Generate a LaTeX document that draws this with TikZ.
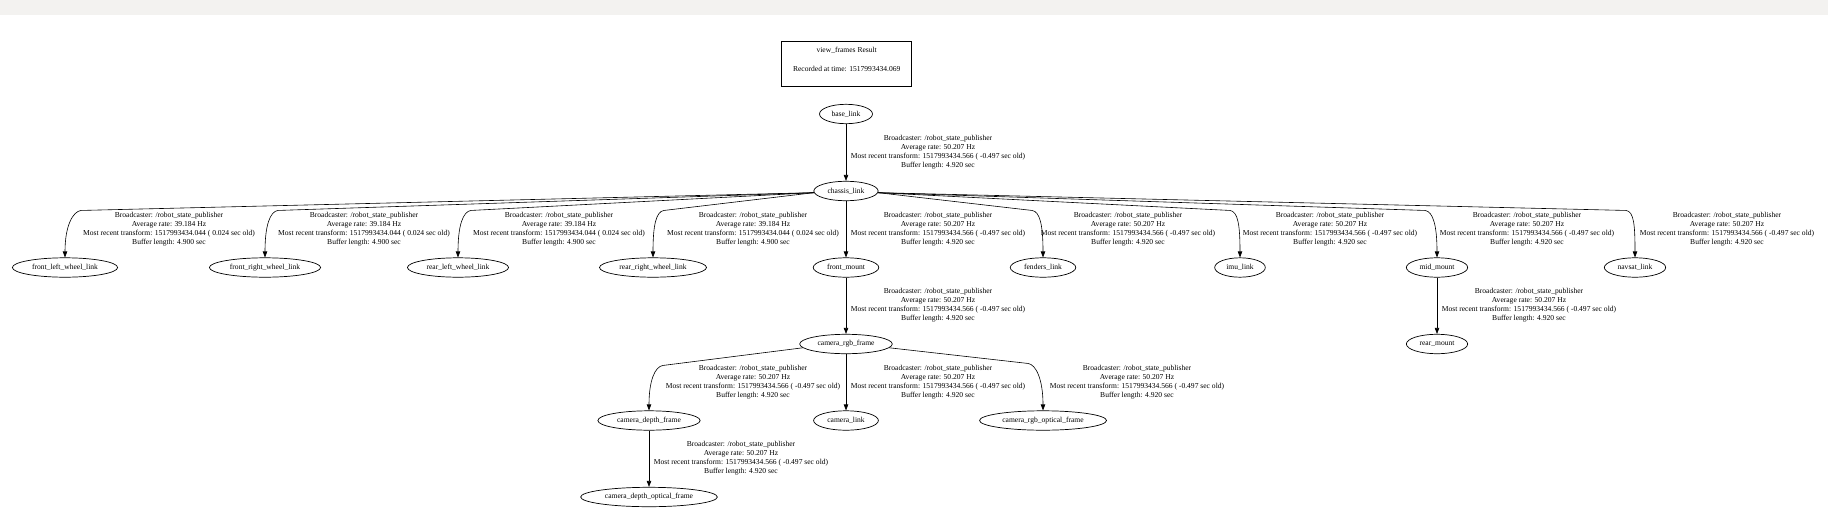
\documentclass[tikz,border=0pt]{standalone}
\usepackage{fontspec}
\setmainfont{Liberation Serif}
\usetikzlibrary{arrows.meta,shapes.geometric,calc}
\definecolor{topband}{RGB}{243,242,240}
\newcommand\wheeltxt{Broadcaster: /robot\_state\_publisher\\Average rate: 39.184 Hz\\Most recent transform: 1517993434.044 ( 0.024 sec old)\\Buffer length: 4.900 sec}
\newcommand\rsptxt{Broadcaster: /robot\_state\_publisher\\Average rate: 50.207 Hz\\Most recent transform: 1517993434.566 ( -0.497 sec old)\\Buffer length: 4.920 sec}
\begin{document}
\begin{tikzpicture}[x=1pt,y=-1pt,
  every node/.style={font=\fontsize{7.56}{9.1}\selectfont},
  frame/.style={draw, ellipse, line width=0.7pt, inner xsep=4.25pt, inner ysep=1pt, minimum height=19.4pt},
  titlebox/.style={draw, rectangle, line width=0.7pt, minimum width=130pt, minimum height=44.3pt, align=center, inner sep=0pt},
  lbl/.style={align=center, inner sep=0pt},
  edge/.style={line width=0.6pt, -{Triangle[length=6pt,width=4.4pt]}}]
\fill[topband] (0,0) rectangle (1828,14.5);
\useasboundingbox (0,0) rectangle (1828,514);

\node[titlebox] (title) at (846.7,63.9) {view\_frames Result\\[9.1pt]Recorded at time: 1517993434.069\\[0pt]\mbox{}};

% nodes
\node[frame] (base) at (846,114) {base\_link};
\node[frame] (chassis) at (846,191) {chassis\_link};
\node[frame] (fl) at (65,267.5) {front\_left\_wheel\_link};
\node[frame] (fr) at (265,267.5) {front\_right\_wheel\_link};
\node[frame] (rl) at (458,267.5) {rear\_left\_wheel\_link};
\node[frame] (rr) at (653,267.5) {rear\_right\_wheel\_link};
\node[frame] (fm) at (846,267.5) {front\_mount};
\node[frame] (fe) at (1043,267.5) {fenders\_link};
\node[frame] (imu) at (1240,267.5) {imu\_link};
\node[frame] (mm) at (1437,267.5) {mid\_mount};
\node[frame] (nav) at (1635,267.5) {navsat\_link};
\node[frame] (crgb) at (846,344) {camera\_rgb\_frame};
\node[frame] (rm) at (1437,344) {rear\_mount};
\node[frame] (cdep) at (649,420.5) {camera\_depth\_frame};
\node[frame] (clink) at (846,420.5) {camera\_link};
\node[frame] (copt) at (1043,420.5) {camera\_rgb\_optical\_frame};
\node[frame] (cdopt) at (649,497) {camera\_depth\_optical\_frame};

% straight edges
\draw[edge] (base) -- (chassis);
\draw[edge] (chassis) -- (fm);
\draw[edge] (fm) -- (crgb);
\draw[edge] (crgb) -- (clink);
\draw[edge] (mm) -- (rm);
\draw[edge] (cdep) -- (cdopt);

% curved edges, left side
\foreach \n/\d in {fl/16, fr/13, rl/13, rr/11}{
  \draw[edge] (chassis.183) -- ($(\n.north)+(\d,-47)$) .. controls ($(\n.north)+(\d-8,-46)$) and ($(\n.north)+(0,-32)$) .. (\n.north);
}
% curved edges, right side
\foreach \n/\d in {fe/11, imu/10, mm/12, nav/9}{
  \draw[edge] (chassis.357) -- ($(\n.north)+(-\d,-47)$) .. controls ($(\n.north)+(-\d+8,-46)$) and ($(\n.north)+(0,-32)$) .. (\n.north);
}
\draw[edge] (crgb.185) -- ($(cdep.north)+(14,-45)$) .. controls ($(cdep.north)+(6,-44)$) and ($(cdep.north)+(0,-30)$) .. (cdep.north);
\draw[edge] (crgb.355) -- ($(copt.north)+(-15,-47)$) .. controls ($(copt.north)+(-7,-46)$) and ($(copt.north)+(0,-31)$) .. (copt.north);

% edge labels
\node[lbl] (l0) at (938,152.5) {\rsptxt};
\node[lbl] (l1) at (169,229) {\wheeltxt};
\node[lbl] (l2) at (364,229) {\wheeltxt};
\node[lbl] (l3) at (559,229) {\wheeltxt};
\node[lbl] (l4) at (753,229) {\wheeltxt};
\node[lbl] (l5) at (938,229) {\rsptxt};
\node[lbl] (l6) at (1128,229) {\rsptxt};
\node[lbl] (l7) at (1330,229) {\rsptxt};
\node[lbl] (l8) at (1527,229) {\rsptxt};
\node[lbl] (l9) at (1727,229) {\rsptxt};
\node[lbl] (l10) at (938,305.5) {\rsptxt};
\node[lbl] (l11) at (1529,305.5) {\rsptxt};
\node[lbl] (l12) at (753,382) {\rsptxt};
\node[lbl] (l13) at (938,382) {\rsptxt};
\node[lbl] (l14) at (1137,382) {\rsptxt};
\node[lbl] (l15) at (741,458.5) {\rsptxt};
\end{tikzpicture}
\end{document}
